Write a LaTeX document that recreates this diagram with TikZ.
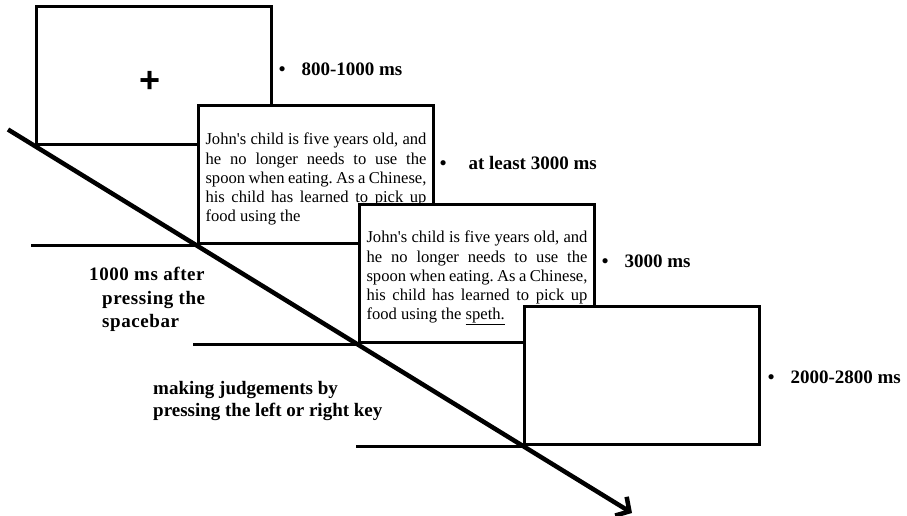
\documentclass[tikz,border=0pt]{standalone}
\usepackage{fontspec}
\setmainfont{Liberation Serif}
\newfontfamily\plusfont{Liberation Sans}
\usetikzlibrary{arrows.meta}
\frenchspacing

\newcommand{\jline}[1]{\makebox[221pt][s]{#1}}
\newcommand{\apos}{\textquotesingle}

\begin{document}
\begin{tikzpicture}[x=1pt,y=-1pt,
  frame/.style={draw,fill=white,line width=3pt,minimum width=235pt,minimum height=138pt,inner sep=0pt,anchor=south west},
  stim/.style={font=\fontsize{16.6}{19.2}\selectfont,align=left},
  timing/.style={font=\fontsize{19}{19}\selectfont\bfseries,anchor=west,inner sep=0pt},
  note/.style={font=\fontsize{19}{23.5}\selectfont\bfseries,align=left,anchor=north west,inner sep=0pt},
  base/.style={line width=3pt}]
\useasboundingbox (0,0) rectangle (907,516);

\node[frame] (F1) at (35,146) {};
\node[font=\fontsize{36}{36}\plusfont\bfseries] (Fix) at (150,82) {+};

\node[frame,stim] (F2) at (197,245) {\rule{0pt}{21pt}\jline{John\apos s child is five years old, and}\\
  \jline{he no longer needs to use the}\\
  \jline{spoon when eating. As a Chinese,}\\
  \jline{his child has learned to pick up}\\
  food using the};
\coordinate (L2) at (31,245);
\draw[base] (L2) -- (F2.south west);

\node[frame,stim] (F3) at (358,344) {\rule{0pt}{21pt}\jline{John\apos s child is five years old, and}\\
  \jline{he no longer needs to use the}\\
  \jline{spoon when eating. As a Chinese,}\\
  \jline{his child has learned to pick up}\\
  food using the \underline{speth.}};
\coordinate (L3) at (193,344);
\draw[base] (L3) -- (F3.south west);

\node[frame] (F4) at (523,446) {};
\coordinate (L4) at (356,446);
\draw[base] (L4) -- (F4.south west);

\coordinate (S) at (8,129.5);
\coordinate (E) at (632,513);
\draw[line width=4.5pt,-{Straight Barb[length=10pt,width=22pt]}] (S) -- (E);

\node[timing] (T1) at (278.7,69) {\textbullet\hspace{16pt}800-1000 ms};
\node[timing] (T2) at (439.7,163) {\textbullet\hspace{22pt}at least 3000 ms};
\node[timing] (T3) at (601.7,261) {\textbullet\hspace{16pt}3000 ms};
\node[timing] (T4) at (767.7,377) {\textbullet\hspace{16pt}2000-2800 ms};

\node[note,font=\fontsize{19}{23.5}\selectfont\bfseries\addfontfeature{LetterSpace=3}] (N1) at (89,267) {1000 ms after\\
  \hspace*{13pt}pressing the\\
  \hspace*{13pt}spacebar};
\node[note,font=\fontsize{19}{22}\selectfont\bfseries] (N2) at (153,381) {making judgements by\\
  pressing the left or right key};
\end{tikzpicture}
\end{document}
